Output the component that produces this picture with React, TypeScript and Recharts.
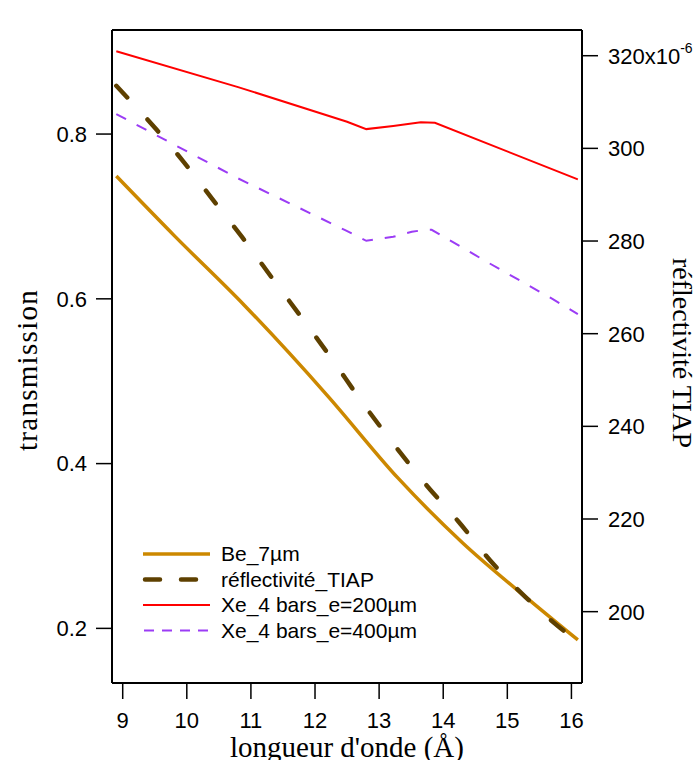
import React from 'react'
import { LineChart, Line, XAxis, YAxis, Legend, Label } from 'recharts'

// wavelength (Å) and values
const beX = [8.9, 9.8, 10.9, 12.2, 13.3, 14.3, 15.35, 16.1]
const beY = [0.749, 0.677, 0.592, 0.482, 0.382, 0.304, 0.234, 0.186]

// réflectivité TIAP, in units of 1e-6 (right axis)
const tiapX = [8.9, 9.53, 9.95, 10.39, 10.86, 11.31, 11.79, 12.26, 12.73, 13.22, 13.72, 14.24, 14.73, 15.28, 15.71, 16.1]
const tiapY = [313.5, 304.0, 297.1, 289.2, 280.9, 272.4, 263.5, 254.6, 245.3, 236.3, 227.6, 219.4, 211.1, 203.2, 197.8, 193.5]

const xe200X = [8.9, 10.8, 12.5, 12.8, 13.22, 13.65, 13.87, 16.1]
const xe200Y = [0.9005, 0.857, 0.815, 0.806, 0.8097, 0.8142, 0.8137, 0.745]

const xe400X = [8.9, 10.8, 12.47, 12.8, 13.22, 13.51, 13.72, 13.82, 14.68, 15.71, 16.1]
const xe400Y = [0.8243, 0.7462, 0.6834, 0.6704, 0.6753, 0.6814, 0.6838, 0.6838, 0.6449, 0.5996, 0.5814]

const xTicks = [9, 10, 11, 12, 13, 14, 15, 16]
const leftTicks = [0.2, 0.4, 0.6, 0.8]
const rightTicks = [200, 220, 240, 260, 280, 300, 320]

const toPoints = (xs: number[], ys: number[]) => xs.map((x, i) => ({ x, y: ys[i] }))

const beData = toPoints(beX, beY)
const tiapData = toPoints(tiapX, tiapY)
const xe200Data = toPoints(xe200X, xe200Y)
const xe400Data = toPoints(xe400X, xe400Y)

const SANS = "'Liberation Sans', Arial, sans-serif"
const SERIF = "'Liberation Serif', 'Times New Roman', serif"
const TICK_SIZE = 22
const LEGEND_SIZE = 21

const BE_COLOR = '#CC8800'
const TIAP_COLOR = '#5E4000'
const RED = '#FF0000'
const PURPLE = '#9B3CF5'

// legend sample: x1/x2 inside the legend box
const legendRows = [
  { name: 'Be_7µm', color: BE_COLOR, width: 3.5, dash: undefined as string | undefined, cap: 'butt', x1: 3, x2: 70 },
  { name: 'réflectivité_TIAP', color: TIAP_COLOR, width: 4.5, dash: '15 21', cap: 'round', x1: 5, x2: 57 },
  { name: 'Xe_4 bars_e=200µm', color: RED, width: 2, dash: undefined, cap: 'butt', x1: 3, x2: 70 },
  { name: 'Xe_4 bars_e=400µm', color: PURPLE, width: 2, dash: '10 8', cap: 'butt', x1: 4, x2: 70 }
]

function RightTick(props: any) {
  const { x, y, payload } = props
  return (
    <text x={x} y={y} dy={8} fontSize={TICK_SIZE} fontFamily={SANS} fill="#000" textAnchor="start">
      {payload.value}
      {payload.value === 320 && (
        <>
          x10<tspan dy={-11} fontSize={14}>-6</tspan>
        </>
      )}
    </text>
  )
}

function LegendBox() {
  return (
    <svg width={330} height={104}>
      {legendRows.map((r, i) => {
        const cy = 14 + i * 25.5
        return (
          <g key={r.name}>
            <line
              x1={r.x1}
              x2={r.x2}
              y1={cy}
              y2={cy}
              stroke={r.color}
              strokeWidth={r.width}
              strokeDasharray={r.dash}
              strokeLinecap={r.cap as any}
            />
            <text x={81} y={cy} dy={7} fontSize={LEGEND_SIZE} fontFamily={SANS} fill="#000">
              {r.name}
            </text>
          </g>
        )
      })}
    </svg>
  )
}

export default function App() {
  const axisLine = { stroke: '#000', strokeWidth: 2 }
  const tickLine = { stroke: '#000', strokeWidth: 1.5 }
  const tickFont = { fill: '#000', fontSize: TICK_SIZE, fontFamily: SANS }
  const xDomain = [8.833, 16.165]

  return (
    <div style={{ position: 'absolute', left: 0, top: 0, width: 696, height: 760, background: '#fff' }}>
      <LineChart width={696} height={760} margin={{ top: 0, right: 0, bottom: 0, left: 0 }}>
        <XAxis
          xAxisId="top"
          orientation="top"
          type="number"
          dataKey="x"
          domain={xDomain}
          ticks={xTicks}
          allowDataOverflow
          height={30}
          tick={false}
          tickSize={16}
          axisLine={axisLine}
          tickLine={tickLine}
        />
        <XAxis
          xAxisId="bottom"
          orientation="bottom"
          type="number"
          dataKey="x"
          domain={xDomain}
          ticks={xTicks}
          allowDataOverflow
          height={77}
          tickSize={16}
          tickMargin={13}
          tick={tickFont}
          axisLine={axisLine}
          tickLine={tickLine}
        >
          <Label
            content={() => (
              <text x={347} y={757} textAnchor="middle" fontSize={29} fontFamily={SERIF} fill="#000">
                longueur d'onde (Å)
              </text>
            )}
          />
        </XAxis>
        <YAxis
          yAxisId="left"
          orientation="left"
          type="number"
          domain={[0.1337, 0.9263]}
          ticks={leftTicks}
          allowDataOverflow
          width={112}
          tickSize={16}
          tickMargin={9}
          tick={tickFont}
          tickFormatter={(v: number) => v.toFixed(1)}
          axisLine={axisLine}
          tickLine={tickLine}
        >
          <Label
            content={() => (
              <text
                x={37}
                y={370}
                transform="rotate(-90 37 370)"
                textAnchor="middle"
                fontSize={29}
                fontFamily={SERIF}
                letterSpacing={1.3}
                fill="#000"
              >
                transmission
              </text>
            )}
          />
        </YAxis>
        <YAxis
          yAxisId="right"
          orientation="right"
          type="number"
          domain={[184.6, 325.55]}
          ticks={rightTicks}
          allowDataOverflow
          width={114}
          tickSize={16}
          tickMargin={10}
          tick={<RightTick />}
          axisLine={axisLine}
          tickLine={tickLine}
        >
          <Label
            content={() => (
              <text
                x={673}
                y={353}
                transform="rotate(90 673 353)"
                textAnchor="middle"
                fontSize={28}
                fontFamily={SERIF}
                fill="#000"
              >
                réflectivité TIAP
              </text>
            )}
          />
        </YAxis>
        <Legend
          layout="horizontal"
          verticalAlign="middle"
          align="center"
          content={() => <LegendBox />}
          wrapperStyle={{ left: 140, top: 540, width: 330, height: 104 }}
        />
        <Line
          xAxisId="bottom"
          yAxisId="left"
          data={xe200Data}
          dataKey="y"
          name="Xe_4 bars_e=200µm"
          type="linear"
          stroke={RED}
          strokeWidth={2}
          dot={false}
          isAnimationActive={false}
        />
        <Line
          xAxisId="bottom"
          yAxisId="left"
          data={xe400Data}
          dataKey="y"
          name="Xe_4 bars_e=400µm"
          type="linear"
          stroke={PURPLE}
          strokeWidth={2}
          strokeDasharray="11 12"
          dot={false}
          isAnimationActive={false}
        />
        <Line
          xAxisId="bottom"
          yAxisId="left"
          data={beData}
          dataKey="y"
          name="Be_7µm"
          type="monotone"
          stroke={BE_COLOR}
          strokeWidth={3.5}
          dot={false}
          isAnimationActive={false}
        />
        <Line
          xAxisId="bottom"
          yAxisId="right"
          data={tiapData}
          dataKey="y"
          name="réflectivité_TIAP"
          type="monotone"
          stroke={TIAP_COLOR}
          strokeWidth={4.5}
          strokeDasharray="16 30"
          strokeLinecap="round"
          dot={false}
          isAnimationActive={false}
        />
      </LineChart>
    </div>
  )
}
